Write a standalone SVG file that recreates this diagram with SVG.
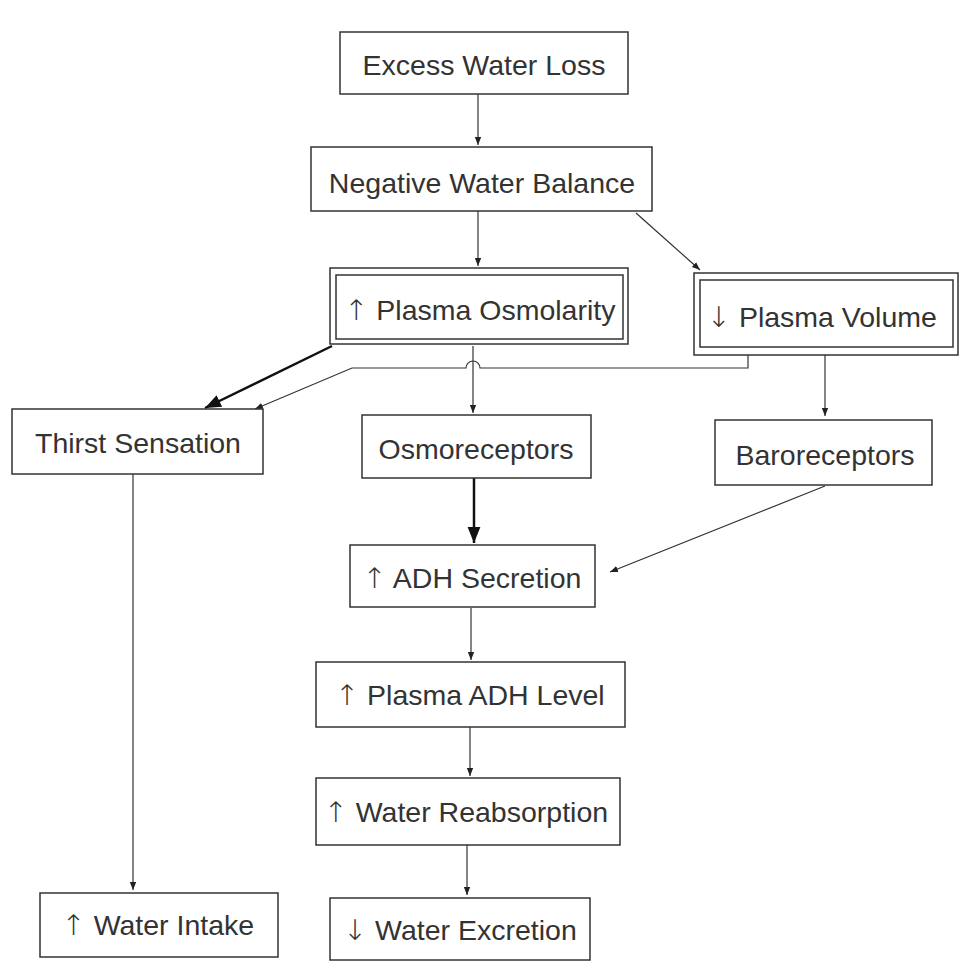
<svg xmlns="http://www.w3.org/2000/svg" width="961" height="965" viewBox="0 0 961 965">
<defs>
<marker id="ah" viewBox="0 0 10 10" refX="10" refY="5" markerWidth="8" markerHeight="8" markerUnits="userSpaceOnUse" orient="auto"><path d="M0,1 L10,5 L0,9 z" fill="#222"/></marker>
<marker id="ahb" viewBox="0 0 10 10" refX="10" refY="5" markerWidth="16" markerHeight="16" markerUnits="userSpaceOnUse" orient="auto"><path d="M0,1 L10,5 L0,9 z" fill="#111"/></marker>
</defs>
<style>
.b{fill:#fff;stroke:#333;stroke-width:1.5}
.t{font-family:"Liberation Sans",Arial,sans-serif;font-size:28.5px;fill:#333;text-anchor:middle}
.a{font-family:"DejaVu Sans",sans-serif;font-weight:300;fill:#333}
.c{fill:none;stroke:#333;stroke-width:1.2}
.k{fill:none;stroke:#111;stroke-width:2.5}
</style>
<rect width="961" height="965" fill="#fff"/>
<g id="connectors">
<path class="c" d="M478,94 V145" marker-end="url(#ah)"/>
<path class="c" d="M478,211 V266" marker-end="url(#ah)"/>
<path class="c" d="M636,213 L700,270" marker-end="url(#ah)"/>
<path class="k" d="M332,346 L205,408" marker-end="url(#ahb)"/>
<path class="c" d="M748,350 V368 H480 A7,7 0 0 0 466,368 H352 L255,409" marker-end="url(#ah)"/>
<path class="c" d="M473,346 V413" marker-end="url(#ah)"/>
<path class="c" d="M825,350 V416" marker-end="url(#ah)"/>
<path class="k" d="M474,478 V543" marker-end="url(#ahb)"/>
<path class="c" d="M825,486 L610,572" marker-end="url(#ah)"/>
<path class="c" d="M133,474 V890" marker-end="url(#ah)"/>
<path class="c" d="M471,608 V660" marker-end="url(#ah)"/>
<path class="c" d="M470,727 V776" marker-end="url(#ah)"/>
<path class="c" d="M467,845 V895" marker-end="url(#ah)"/>
</g>
<g id="n1"><rect class="b" x="340" y="32" width="288" height="62"/><text class="t" x="484" y="75">Excess Water Loss</text></g>
<g id="n2"><rect class="b" x="311" y="147" width="341" height="64"/><text class="t" x="482" y="193">Negative Water Balance</text></g>
<g id="n3"><rect class="b" x="330" y="268" width="298" height="76"/><rect class="b" x="336" y="275" width="287" height="64"/><text class="t" x="480" y="320"><tspan class="a">↑</tspan> Plasma Osmolarity</text></g>
<g id="n4"><rect class="b" x="694" y="273" width="264" height="82"/><rect class="b" x="700" y="280" width="253" height="67"/><text class="t" x="822" y="327"><tspan class="a">↓</tspan> Plasma Volume</text></g>
<g id="n5"><rect class="b" x="12" y="409" width="251" height="65"/><text class="t" x="138" y="453">Thirst Sensation</text></g>
<g id="n6"><rect class="b" x="362" y="415" width="229" height="63"/><text class="t" x="476" y="459">Osmoreceptors</text></g>
<g id="n7"><rect class="b" x="715" y="420" width="217" height="65"/><text class="t" x="825" y="465">Baroreceptors</text></g>
<g id="n8"><rect class="b" x="350" y="545" width="245" height="62"/><text class="t" x="472" y="588"><tspan class="a">↑</tspan> ADH Secretion</text></g>
<g id="n9"><rect class="b" x="316" y="662" width="309" height="65"/><text class="t" x="470" y="705"><tspan class="a">↑</tspan> Plasma ADH Level</text></g>
<g id="n10"><rect class="b" x="316" y="778" width="304" height="67"/><text class="t" x="466" y="822"><tspan class="a">↑</tspan> Water Reabsorption</text></g>
<g id="n11"><rect class="b" x="40" y="893" width="238" height="64"/><text class="t" x="158" y="935"><tspan class="a">↑</tspan> Water Intake</text></g>
<g id="n12"><rect class="b" x="330" y="898" width="260" height="62"/><text class="t" x="460" y="940"><tspan class="a">↓</tspan> Water Excretion</text></g>
</svg>
